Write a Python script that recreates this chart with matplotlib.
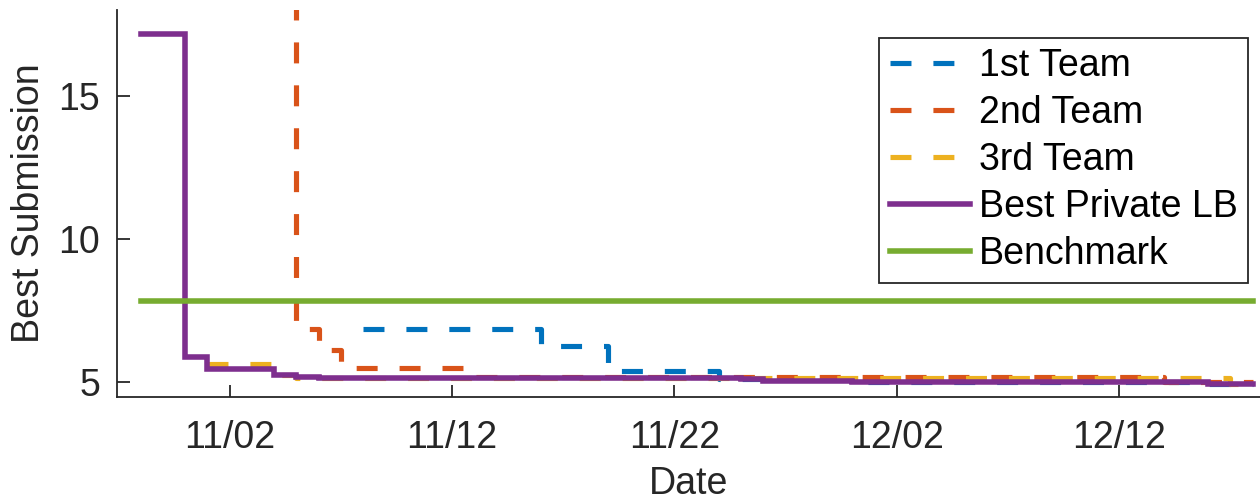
import matplotlib
matplotlib.use("Agg")
import matplotlib.pyplot as plt
import matplotlib.dates as mdates
import pandas as pd

YEAR = "2018"

# Best score to date for each team (step changes), plus the overall best and the benchmark
team1_dates = ["11-08", "11-16", "11-19", "11-24", "11-30", "12-16", "12-18"]
team1_vals = [6.85, 6.23, 5.37, 5.08, 5.00, 4.93, 4.93]

team2_dates = ["11-04", "11-05", "11-06", "11-07", "11-13", "12-14", "12-18"]
team2_vals = [25.0, 6.84, 6.10, 5.47, 5.16, 4.98, 4.98]

team3_dates = ["11-01", "11-04", "11-05", "12-17", "12-18"]
team3_vals = [5.61, 5.22, 5.14, 4.92, 4.92]

best_dates = ["10-29", "10-31", "11-01", "11-04", "11-05", "11-06",
              "11-25", "11-26", "11-30", "12-16", "12-18"]
best_vals = [17.15, 5.85, 5.43, 5.23, 5.16, 5.14, 5.08, 5.03, 5.00, 4.93, 4.93]

bench_dates = ["10-29", "12-18"]
bench_vals = [7.83, 7.83]

labels = ["1st Team", "2nd Team", "3rd Team", "Best Private LB", "Benchmark"]
yticks = [5, 10, 15]


def to_dates(days):
    return pd.to_datetime([f"{YEAR}-{d}" for d in days])


plt.rcParams["font.family"] = ["Liberation Sans", "DejaVu Sans"]
plt.rcParams["lines.scale_dashes"] = False

FS = 27

fig = plt.figure(figsize=(12.6, 5.01), dpi=100)
ax = fig.add_axes([117 / 1260, 1 - 396.7 / 501, 1 - 117 / 1260, (396.7 - 10) / 501])

dash = (0, (15.1, 15.8))
lw_dash = 3.7
lw_solid = 4.0

ax.step(to_dates(team1_dates), team1_vals, where="post", color="#0072BD",
        lw=lw_dash, ls=dash, dash_capstyle="butt", label=labels[0])
ax.step(to_dates(team2_dates), team2_vals, where="post", color="#D95319",
        lw=lw_dash, ls=dash, dash_capstyle="butt", label=labels[1])
ax.step(to_dates(team3_dates), team3_vals, where="post", color="#EDB120",
        lw=lw_dash, ls=dash, dash_capstyle="butt", label=labels[2])
ax.step(to_dates(best_dates), best_vals, where="post", color="#7E2F8E",
        lw=lw_solid, solid_joinstyle="miter", label=labels[3])
ax.plot(to_dates(bench_dates), bench_vals, color="#77AC30",
        lw=lw_solid, label=labels[4])

ax.set_xlim(pd.Timestamp(f"{YEAR}-10-27 22:30"), pd.Timestamp(f"{YEAR}-12-18 08:00"))
ax.set_ylim(4.47, 18.0)

ax.xaxis.set_major_locator(mdates.DayLocator(bymonthday=[2, 12, 22]))
ax.xaxis.set_major_formatter(mdates.DateFormatter("%m/%d"))
ax.set_yticks(yticks)

dark = "#262626"
for side in ("top", "right"):
    ax.spines[side].set_visible(False)
for side in ("left", "bottom"):
    ax.spines[side].set_color(dark)
    ax.spines[side].set_linewidth(1.3)

ax.tick_params(axis="both", direction="in", length=9, width=1.3, colors=dark,
               labelsize=FS)
ax.tick_params(axis="x", pad=17)
ax.tick_params(axis="y", pad=12)

ax.set_xlabel("Date", fontsize=FS, color=dark, labelpad=7)
ax.set_ylabel("Best Submission", fontsize=FS, color=dark, labelpad=8)

leg = ax.legend(loc="upper right", bbox_to_anchor=(1248 / 1260, 1 - 38 / 501),
                bbox_transform=fig.transFigure, borderaxespad=0,
                fontsize=FS, frameon=True, fancybox=False, framealpha=1,
                edgecolor=dark, handlelength=2.13, handletextpad=0.24,
                labelspacing=0.29, borderpad=0.28)
leg.get_frame().set_linewidth(1.3)

fig.savefig("out.png", dpi=100, facecolor="white")
